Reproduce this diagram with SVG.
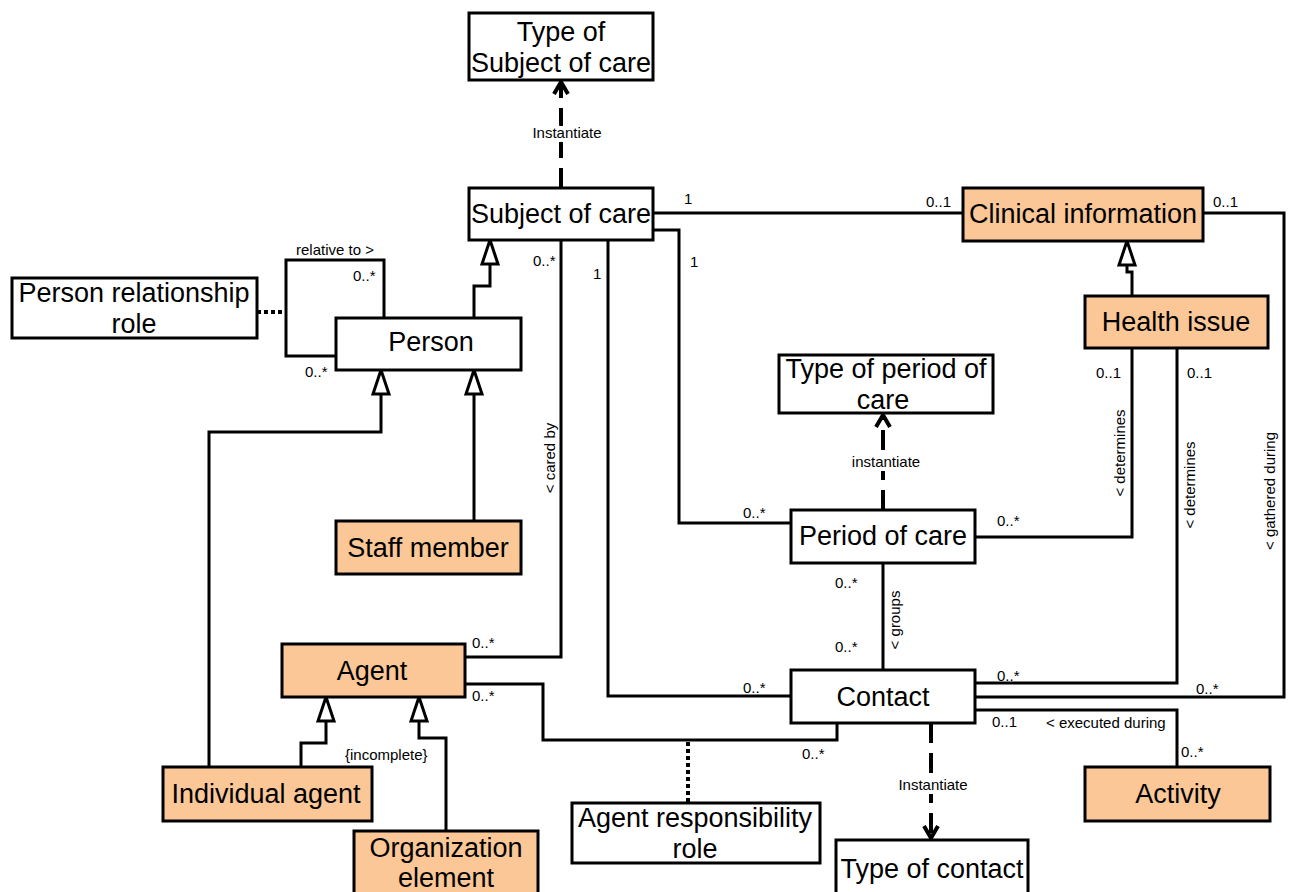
<svg xmlns="http://www.w3.org/2000/svg" width="1292" height="892" viewBox="0 0 1292 892">
<style>
.box{fill:#fff;stroke:#000;stroke-width:3}
.pe{fill:#FBC797;stroke:#000;stroke-width:3}
.nt{font-family:"Liberation Sans",Arial,sans-serif;font-size:27px;fill:#000;text-anchor:middle}
.ln{fill:none;stroke:#000;stroke-width:3;stroke-linejoin:miter}
.dot{fill:none;stroke:#000;stroke-width:4;stroke-dasharray:4 3}
.dash{fill:none;stroke:#000;stroke-width:4;stroke-dasharray:20 10}
.lb{font-family:"Liberation Sans",Arial,sans-serif;font-size:15px;fill:#000}
.lbw{font-family:"Liberation Sans",Arial,sans-serif;font-size:15px;fill:#000;text-anchor:middle;stroke:#fff;stroke-width:8px;paint-order:stroke}
.rot{font-family:"Liberation Sans",Arial,sans-serif;font-size:15px;fill:#000;text-anchor:middle}
</style>
<defs>
<marker id="gen" viewBox="-2 -2 30 22" refX="24" refY="8" markerWidth="30" markerHeight="22" markerUnits="userSpaceOnUse" orient="auto" overflow="visible">
<path d="M24,8 L0,0 L0,16 Z" fill="#fff" stroke="#000" stroke-width="3" stroke-linejoin="miter"/>
</marker>
<marker id="open" viewBox="-2 -2 18 18" refX="12" refY="7" markerWidth="18" markerHeight="18" markerUnits="userSpaceOnUse" orient="auto" overflow="visible">
<path d="M0,0 L12,7 L0,14" fill="none" stroke="#000" stroke-width="4"/>
</marker>
</defs>
<rect width="1292" height="892" fill="#fff"/>

<g id="connectors">
<!-- associations -->
<path class="ln" d="M653,213 H963"/>
<path class="ln" d="M653,230 H679 V523 H791"/>
<path class="ln" d="M608,240 V696 H791"/>
<path class="ln" d="M561,240 V657 H465"/>
<path class="ln" d="M384,318 V260 H286 V356 H336"/>
<path class="dot" d="M257,312 H286"/>
<path class="ln" d="M975,537 H1132 V348"/>
<path class="ln" d="M883,563 V670"/>
<path class="ln" d="M975,683 H1177 V348"/>
<path class="ln" d="M975,697 H1284 V213 H1203"/>
<path class="ln" d="M975,710 H1177 V767"/>
<path class="ln" d="M465,684 H543 V740 H837 V723"/>
<path class="dot" d="M688,742 V803"/>
<!-- generalizations -->
<path class="ln" d="M474,318 V286 H490 V240" marker-end="url(#gen)"/>
<path class="ln" d="M209,767 V432 H381 V370" marker-end="url(#gen)"/>
<path class="ln" d="M474,521 V370" marker-end="url(#gen)"/>
<path class="ln" d="M301,767 V743 H326 V697" marker-end="url(#gen)"/>
<path class="ln" d="M446,831 V738 H419 V697" marker-end="url(#gen)"/>
<path class="ln" d="M1132,296 V272 H1127 V241" marker-end="url(#gen)"/>
<!-- instantiate -->
<path class="dash" d="M561,188 V82" marker-end="url(#open)"/>
<path class="dash" d="M883,510 V415" marker-end="url(#open)"/>
<path class="dash" d="M931,723 V838" marker-end="url(#open)"/>
<text class="lbw" x="567" y="138">Instantiate</text>
<text class="lbw" x="886" y="467">instantiate</text>
<text class="lbw" x="933" y="790">Instantiate</text>
<!-- labels -->
<text class="lb" x="296" y="255">relative to &gt;</text>
<text class="lb" x="353" y="281">0..*</text>
<text class="lb" x="305" y="377">0..*</text>
<text class="lb" x="533" y="266">0..*</text>
<text class="lb" x="593" y="279">1</text>
<text class="lb" x="684" y="204">1</text>
<text class="lb" x="690" y="267">1</text>
<text class="lb" x="926" y="207">0..1</text>
<text class="lb" x="1213" y="207">0..1</text>
<text class="lb" x="1096" y="378">0..1</text>
<text class="lb" x="1187" y="378">0..1</text>
<text class="lb" x="743" y="518">0..*</text>
<text class="lb" x="997" y="526">0..*</text>
<text class="lb" x="835" y="588">0..*</text>
<text class="lb" x="835" y="652">0..*</text>
<text class="lb" x="472" y="648">0..*</text>
<text class="lb" x="472" y="701">0..*</text>
<text class="lb" x="743" y="693">0..*</text>
<text class="lb" x="802" y="759">0..*</text>
<text class="lb" x="997" y="681">0..*</text>
<text class="lb" x="1196" y="694">0..*</text>
<text class="lb" x="992" y="727">0..1</text>
<text class="lb" x="1046" y="728">&lt; executed during</text>
<text class="lb" x="1181" y="757">0..*</text>
<text class="lb" x="345" y="760">{incomplete}</text>
<text class="rot" transform="translate(555,458) rotate(-90)">&lt; cared by</text>
<text class="rot" transform="translate(900,620) rotate(-90)">&lt; groups</text>
<text class="rot" transform="translate(1125,453) rotate(-90)">&lt; determines</text>
<text class="rot" transform="translate(1195,485) rotate(-90)">&lt; determines</text>
<text class="rot" transform="translate(1275,491) rotate(-90)">&lt; gathered during</text>
</g>

<g id="type-subject-of-care"><rect class="box" x="469" y="13" width="184" height="67"/><text class="nt" x="561" y="41">Type of</text><text class="nt" x="561" y="72">Subject of care</text></g>
<g id="subject-of-care"><rect class="box" x="469" y="188" width="184" height="52"/><text class="nt" x="561" y="223">Subject of care</text></g>
<g id="clinical-information"><rect class="pe" x="963" y="188" width="240" height="53"/><text class="nt" x="1083" y="223">Clinical information</text></g>
<g id="person-relationship-role"><rect class="box" x="12" y="278" width="245" height="60"/><text class="nt" x="134" y="302">Person relationship</text><text class="nt" x="134" y="333">role</text></g>
<g id="person"><rect class="box" x="336" y="318" width="185" height="52"/><text class="nt" x="431" y="351">Person</text></g>
<g id="health-issue"><rect class="pe" x="1085" y="296" width="183" height="52"/><text class="nt" x="1176" y="331">Health issue</text></g>
<g id="type-period-of-care"><rect class="box" x="779" y="355" width="214" height="58"/><text class="nt" x="886" y="378">Type of period of</text><text class="nt" x="883" y="409">care</text></g>
<g id="staff-member"><rect class="pe" x="336" y="521" width="185" height="53"/><text class="nt" x="428" y="557">Staff member</text></g>
<g id="period-of-care"><rect class="box" x="791" y="510" width="184" height="53"/><text class="nt" x="883" y="545">Period of care</text></g>
<g id="agent"><rect class="pe" x="282" y="644" width="183" height="53"/><text class="nt" x="372" y="680">Agent</text></g>
<g id="contact"><rect class="box" x="791" y="670" width="184" height="53"/><text class="nt" x="883" y="706">Contact</text></g>
<g id="individual-agent"><rect class="pe" x="163" y="767" width="209" height="54"/><text class="nt" x="266" y="803">Individual agent</text></g>
<g id="activity"><rect class="pe" x="1085" y="767" width="185" height="54"/><text class="nt" x="1178" y="803">Activity</text></g>
<g id="organization-element"><rect class="pe" x="354" y="831" width="184" height="75"/><text class="nt" x="446" y="857">Organization</text><text class="nt" x="446" y="887">element</text></g>
<g id="agent-responsibility-role"><rect class="box" x="572" y="803" width="248" height="60"/><text class="nt" x="695" y="827">Agent responsibility</text><text class="nt" x="695" y="858">role</text></g>
<g id="type-of-contact"><rect class="box" x="836" y="840" width="192" height="66"/><text class="nt" x="932" y="878">Type of contact</text></g>
</svg>
